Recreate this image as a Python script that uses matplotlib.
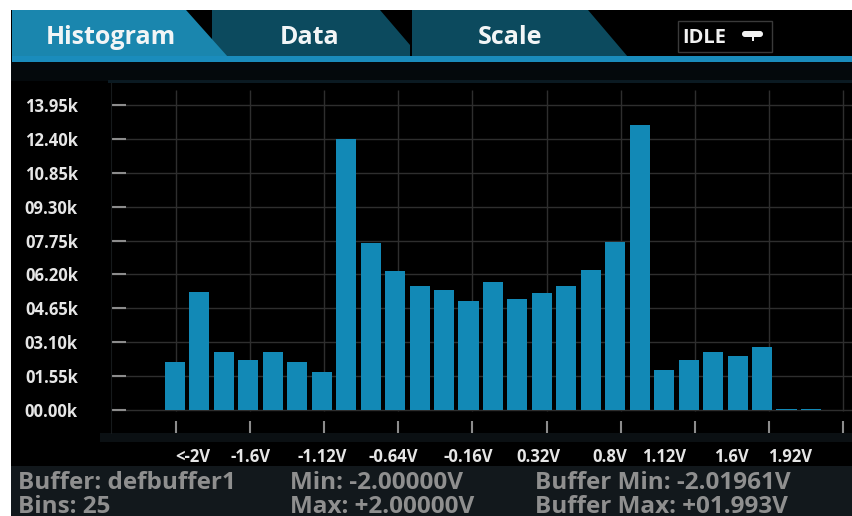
import numpy as np
import matplotlib
matplotlib.use("Agg")
import matplotlib.pyplot as plt
from matplotlib.patches import Polygon, Rectangle, FancyBboxPatch

# ---- histogram data -------------------------------------------------------
counts = [2210, 5380, 2640, 2270, 2670, 2210, 1720, 12390, 7640, 6370,
          5670, 5470, 5000, 5830, 5060, 5360, 5680, 6400, 7680, 13030,
          1830, 2270, 2650, 2470, 2880, 50, 50]
bin_labels = ["<-2V", "-1.6V", "-1.12V", "-0.64V", "-0.16V",
              "0.32V", "0.8V", "1.12V", "1.6V", "1.92V"]
bin_label_pos = [0.74, 3.07, 6.03, 8.91, 11.98, 14.84, 17.78, 20.01, 22.76, 25.16]
grid_x = [0.04, 3.07, 6.10, 9.13, 12.16, 15.19, 18.22, 21.25, 24.28, 27.31]
y_ticks = [0, 1550, 3100, 4650, 6200, 7750, 9300, 10850, 12400, 13950]
y_tick_labels = [f"{t / 1000:05.2f}k" for t in y_ticks]

tab_names = ["Histogram", "Data", "Scale"]
status = "IDLE"
buffer_name = "defbuffer1"
bins = 25
range_min, range_max = "-2.00000V", "+2.00000V"
buffer_min, buffer_max = "-2.01961V", "+01.993V"

# ---- styling ----------------------------------------------------------------
W, H, DPI = 852, 516, 100
BAR = "#1289b6"
TAB_ACTIVE = "#1a86ae"
TAB_IDLE = "#0c4a5e"
ACCENT = "#1a8cbc"
GRID = "#2e2e2e"
TICK = "#8c8c8c"
LABEL = "#e6e6e6"
INFO = "#8f8f8f"

plt.rcParams["font.family"] = ["Open Sans", "DejaVu Sans"]
plt.rcParams["font.weight"] = "bold"

fig = plt.figure(figsize=(W / DPI, H / DPI), dpi=DPI, facecolor="black")

# screen chrome drawn in pixel coordinates (origin top-left)
bg = fig.add_axes([0, 0, 1, 1], zorder=0)
bg.set_xlim(0, W)
bg.set_ylim(H, 0)
bg.axis("off")

# white margin of the screenshot
bg.add_patch(Rectangle((0, 0), W, 10, color="white", lw=0))
bg.add_patch(Rectangle((0, 0), 11, H, color="white", lw=0))

# tabs
bg.add_patch(Polygon([(412, 10), (588, 10), (628, 57), (412, 57)], closed=True,
                     color=TAB_IDLE, lw=0))
bg.add_patch(Polygon([(212, 10), (380, 10), (410, 45), (410, 57), (212, 57)],
                     closed=True, color=TAB_IDLE, lw=0))
bg.add_patch(Polygon([(12, 10), (186, 10), (228, 57), (12, 57)], closed=True,
                     color=TAB_ACTIVE, lw=0))
bg.add_patch(Rectangle((12, 56), W - 12, 6, color=ACCENT, lw=0))
tab_centers = [111, 310, 510]
for name, cx in zip(tab_names, tab_centers):
    bg.text(cx, 43.5, name, ha="center", va="baseline", fontsize=18,
            color="#f2f5f6", fontweight="bold")

# status box
bg.add_patch(Rectangle((678, 21), 94, 31, fill=False, ec="#3a3a3a", lw=1))
bg.text(682, 43.3, status, ha="left", va="baseline", fontsize=14.5,
        color="#f2f2f2", fontweight="bold")
bg.add_patch(FancyBboxPatch((742, 31), 21, 6, boxstyle="round,pad=0,rounding_size=3",
                            color="#f2f2f2", lw=0))
bg.add_patch(Rectangle((751.5, 36), 2, 5, color="#f2f2f2", lw=0))

# panel strips
bg.add_patch(Rectangle((11, 62), W - 11, 19, color="#04090c", lw=0))
bg.add_patch(Rectangle((108, 80), W - 108, 3, color="#0b1a22", lw=0))
bg.add_patch(Rectangle((100, 433), W - 100, 9, color="#0b1013", lw=0))
bg.add_patch(Rectangle((11, 466), W - 11, H - 466, color="#12181c", lw=0))

# buffer statistics (two rows, second row runs to the bottom edge of the screen)
info_rows = [
    (18, f"Buffer: {buffer_name}", f"Bins: {bins}"),
    (290, f"Min: {range_min}", f"Max: {range_max}"),
    (535, f"Buffer Min: {buffer_min}", f"Buffer Max: {buffer_max}"),
]
for x0, top, bottom in info_rows:
    bg.text(x0, 489, top, ha="left", va="baseline", fontsize=17.5, color=INFO)
    bg.text(x0, 513, bottom, ha="left", va="baseline", fontsize=17.5, color=INFO)

# ---- histogram axes -------------------------------------------------------
px_per_bar = 24.46
x_first = 175.0
left_px, right_px, top_px, bot_px = 111, 852, 83, 433
ax = fig.add_axes([left_px / W, (H - bot_px) / H,
                   (right_px - left_px) / W, (bot_px - top_px) / H], zorder=1)
ax.set_facecolor("none")
ax.set_xlim((left_px - x_first) / px_per_bar, (right_px - x_first) / px_per_bar)
zero_px = 410
px_per_count = 21.87 / 1000
ax.set_ylim((zero_px - bot_px) / px_per_count, (zero_px - top_px) / px_per_count)

x = np.arange(len(counts))
ax.bar(x, counts, width=0.82, color=BAR, lw=0, zorder=3)

# grid
ax.set_yticks(y_ticks, labels=y_tick_labels)
ax.yaxis.grid(True, color=GRID, lw=1, zorder=0)
ax.vlines(grid_x, (zero_px - 411) / px_per_count, (zero_px - 90) / px_per_count,
          color=GRID, lw=1, zorder=1)

ax.tick_params(axis="y", direction="in", length=10.5, width=1.5, color=TICK,
               pad=23.8, labelsize=12, labelcolor=LABEL)

ax.xaxis.remove_overlapping_locs = False
ax.set_xticks(grid_x, labels=[""] * len(grid_x))
ax.set_xticks(bin_label_pos, labels=bin_labels, minor=True)
ax.tick_params(axis="x", which="major", direction="in", length=8.6, width=1.5,
               color=TICK)
ax.tick_params(axis="x", which="minor", length=0, pad=10.5, labelsize=12,
               labelcolor=LABEL)
for lab in ax.get_xticklabels(minor=True) + ax.get_yticklabels():
    lab.set_fontweight("bold")

for side in ["top", "right", "bottom"]:
    ax.spines[side].set_visible(False)
ax.spines["left"].set_color("#161a1c")

fig.savefig("out.png", dpi=DPI, facecolor="black")
